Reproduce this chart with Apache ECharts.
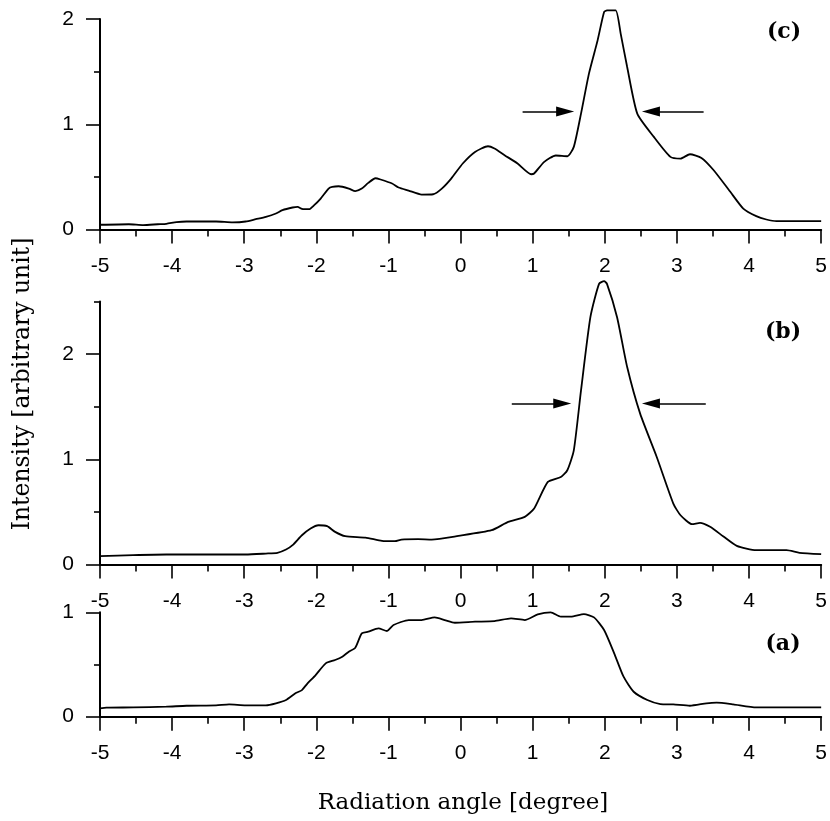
<!DOCTYPE html>
<html>
<head>
<meta charset="utf-8">
<script src="https://cdn.jsdelivr.net/npm/echarts@6/dist/echarts.min.js"></script>
<style>
  html, body { margin: 0; padding: 0; background: #fff; }
  #chart { width: 830px; height: 821px; }
</style>
</head>
<body>
<div id="chart"></div>
<script>
// Angular intensity profiles, three panels (a), (b), (c)
const xTicks = [-5, -4, -3, -2, -1, 0, 1, 2, 3, 4, 5];

// Panel (c)
const angleC = [-5.0, -4.6, -4.4, -4.2, -4.08, -3.94, -3.80, -3.39, -3.16, -2.98, -2.84, -2.70, -2.56, -2.47, -2.33, -2.26, -2.20, -2.10, -2.03, -1.94, -1.83, -1.78, -1.69, -1.55, -1.46, -1.37, -1.28, -1.18, -1.11, -0.95, -0.86, -0.72, -0.54, -0.38, -0.26, -0.13, 0.03, 0.20, 0.38, 0.47, 0.61, 0.79, 0.98, 1.02, 1.16, 1.32, 1.48, 1.57, 1.67, 1.78, 1.90, 1.99, 2.03, 2.15, 2.22, 2.31, 2.45, 2.68, 2.91, 3.05, 3.18, 3.34, 3.51, 3.74, 3.92, 4.10, 4.24, 4.38, 5.0];
const intensityC = [0.045, 0.05, 0.042, 0.05, 0.054, 0.07, 0.076, 0.076, 0.068, 0.076, 0.098, 0.12, 0.152, 0.184, 0.209, 0.215, 0.196, 0.193, 0.231, 0.294, 0.389, 0.405, 0.411, 0.389, 0.364, 0.389, 0.443, 0.487, 0.475, 0.437, 0.399, 0.37, 0.332, 0.335, 0.389, 0.484, 0.627, 0.737, 0.791, 0.769, 0.706, 0.627, 0.525, 0.532, 0.642, 0.703, 0.696, 0.785, 1.101, 1.481, 1.797, 2.066, 2.082, 2.082, 1.861, 1.544, 1.101, 0.880, 0.690, 0.674, 0.715, 0.680, 0.563, 0.358, 0.199, 0.127, 0.095, 0.079, 0.079];

// Panel (b)
const angleB = [-5.0, -4.54, -4.08, -2.98, -2.70, -2.54, -2.42, -2.33, -2.20, -2.08, -1.97, -1.85, -1.74, -1.60, -1.32, -1.09, -0.91, -0.82, -0.59, -0.40, -0.03, 0.43, 0.66, 0.89, 1.02, 1.21, 1.39, 1.48, 1.57, 1.67, 1.80, 1.92, 1.99, 2.03, 2.17, 2.31, 2.49, 2.72, 2.95, 3.05, 3.21, 3.32, 3.46, 3.64, 3.83, 4.10, 4.52, 4.70, 5.0];
const intensityB = [0.079, 0.089, 0.095, 0.095, 0.104, 0.111, 0.142, 0.184, 0.278, 0.342, 0.373, 0.364, 0.310, 0.269, 0.256, 0.225, 0.222, 0.237, 0.241, 0.237, 0.272, 0.326, 0.405, 0.453, 0.532, 0.785, 0.832, 0.896, 1.085, 1.655, 2.351, 2.668, 2.693, 2.668, 2.351, 1.877, 1.434, 1.022, 0.579, 0.468, 0.383, 0.396, 0.358, 0.269, 0.177, 0.136, 0.136, 0.111, 0.098];

// Panel (a)
const angleA = [-5.0, -4.91, -4.54, -4.08, -3.80, -3.39, -3.21, -2.98, -2.70, -2.56, -2.42, -2.29, -2.20, -2.13, -2.01, -1.87, -1.74, -1.64, -1.55, -1.46, -1.37, -1.28, -1.14, -1.02, -0.93, -0.72, -0.54, -0.36, -0.22, -0.08, 0.20, 0.47, 0.70, 0.89, 1.07, 1.25, 1.39, 1.53, 1.71, 1.85, 1.99, 2.13, 2.26, 2.40, 2.59, 2.77, 2.95, 3.18, 3.41, 3.55, 3.78, 4.10, 5.0];
const intensityA = [0.080, 0.086, 0.089, 0.096, 0.105, 0.109, 0.118, 0.109, 0.109, 0.128, 0.160, 0.224, 0.255, 0.313, 0.399, 0.511, 0.543, 0.575, 0.623, 0.661, 0.798, 0.814, 0.846, 0.821, 0.878, 0.926, 0.926, 0.951, 0.926, 0.900, 0.910, 0.916, 0.942, 0.926, 0.980, 0.999, 0.958, 0.958, 0.983, 0.951, 0.830, 0.607, 0.383, 0.239, 0.160, 0.121, 0.118, 0.105, 0.128, 0.134, 0.118, 0.089, 0.089];

// Width markers: [start angle, end angle, intensity level]
const arrowsC = [[0.86, 1.45, 1.12], [3.37, 2.64, 1.12]];
const arrowsB = [[0.71, 1.41, 1.53], [3.40, 2.64, 1.53]];

const panelTags = ['(c)', '(b)', '(a)'];
const xTitle = 'Radiation angle [degree]';
const yTitle = 'Intensity [arbitrary unit]';

const zip = (xs, ys) => xs.map((x, i) => [x, ys[i]]);

const BLACK = '#000';
const numFont = 'Liberation Sans';

const grids = [
  { left: 100, top: 19, width: 725, height: 210.5 },
  { left: 100, top: 301.5, width: 725, height: 263 },
  { left: 100, top: 612.3, width: 725, height: 104.4 }
];

const labelStyle = {
  show: true, color: BLACK, fontSize: 21, fontFamily: numFont, margin: 26,
  showMinLabel: true, showMaxLabel: true, hideOverlap: false
};

function xAxisFor(i) {
  return {
    type: 'value', gridIndex: i, min: -5, max: 5, interval: 1,
    axisLine: { show: true, onZero: false, lineStyle: { color: BLACK, width: 2 } },
    axisTick: { show: true, inside: false, length: 14, lineStyle: { color: BLACK, width: 1.6 } },
    minorTick: { show: true, splitNumber: 2, length: 7, lineStyle: { color: BLACK, width: 1.6 } },
    splitLine: { show: false }, minorSplitLine: { show: false },
    axisLabel: Object.assign({}, labelStyle, { customValues: xTicks })
  };
}

function yAxisFor(i, max, opts) {
  return Object.assign({
    type: 'value', gridIndex: i, min: 0, max: max, interval: 1, position: 'left',
    axisLine: { show: true, onZero: false, lineStyle: { color: BLACK, width: 2 } },
    axisTick: { show: true, inside: false, length: 14, lineStyle: { color: BLACK, width: 1.6 } },
    minorTick: { show: true, splitNumber: 2, length: 6, lineStyle: { color: BLACK, width: 1.6 } },
    splitLine: { show: false }, minorSplitLine: { show: false },
    axisLabel: Object.assign({}, labelStyle)
  }, opts || {});
}

const yAxes = [
  yAxisFor(0, 2),
  // panel (b): long ticks and labels at integers
  yAxisFor(1, 2.5, {
    interval: 0.5,
    minorTick: { show: false },
    axisTick: { show: true, inside: false, length: 14, customValues: [0, 1, 2], lineStyle: { color: BLACK, width: 1.6 } },
    axisLabel: Object.assign({}, labelStyle, { customValues: [0, 1, 2] })
  }),
  yAxisFor(2, 1),
  // panel (b): short ticks at halves
  yAxisFor(1, 2.5, {
    interval: 0.5, offset: 0,
    axisLine: { show: false, onZero: false },
    minorTick: { show: false },
    axisTick: { show: true, inside: false, length: 6, customValues: [0.5, 1.5, 2.5], lineStyle: { color: BLACK, width: 1.6 } },
    axisLabel: { show: false }
  })
];

function arrowLines(list) {
  return {
    silent: true,
    symbol: ['none', 'triangle'],
    symbolSize: [10, 18],
    label: { show: false },
    emphasis: { disabled: true },
    lineStyle: { color: BLACK, width: 1.6, type: 'solid' },
    data: list.map(a => [{ coord: [a[0], a[2]] }, { coord: [a[1], a[2]] }])
  };
}

function curve(i, xs, ys, marks) {
  const s = {
    type: 'line', xAxisIndex: i, yAxisIndex: i,
    data: zip(xs, ys),
    showSymbol: false, smooth: 0.2, clip: false,
    lineStyle: { color: BLACK, width: 1.8 },
    emphasis: { disabled: true }
  };
  if (marks) s.markLine = arrowLines(marks);
  return s;
}

const tagPos = [[784, 32], [783, 332], [783, 644]];

function textEl(text, x, y, font, rotation) {
  return {
    type: 'text', x: x, y: y, rotation: rotation || 0, silent: true,
    style: { text: text, font: font, fill: BLACK,
      align: 'center', verticalAlign: 'middle', textAlign: 'center', textVerticalAlign: 'middle' }
  };
}

const option = {
  animation: false,
  backgroundColor: '#fff',
  grid: grids,
  xAxis: [xAxisFor(0), xAxisFor(1), xAxisFor(2)],
  yAxis: yAxes,
  series: [
    curve(0, angleC, intensityC, arrowsC),
    curve(1, angleB, intensityB, arrowsB),
    curve(2, angleA, intensityA, null)
  ],
  graphic: [
    textEl(xTitle, 463, 803, '23px "DejaVu Serif"'),
    textEl(yTitle, 23, 384, '23.5px "DejaVu Serif"', Math.PI / 2)
  ].concat(panelTags.map((t, i) => textEl(t, tagPos[i][0], tagPos[i][1], 'bold 22px "DejaVu Serif"')))
};

const chart = echarts.init(document.getElementById('chart'), null, { renderer: 'canvas' });
chart.setOption(option);
</script>
</body>
</html>
